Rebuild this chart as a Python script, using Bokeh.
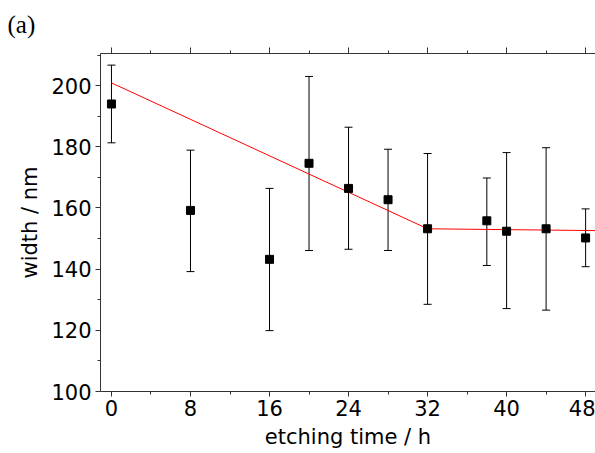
from bokeh.plotting import figure
from bokeh.models import (ColumnDataSource, Whisker, TeeHead, LinearAxis, FixedTicker,
                          Range1d, Title)
from bokeh.embed import file_html
from bokeh.resources import INLINE

# data
time_h = [0, 8, 16, 20, 24, 28, 32, 38, 40, 44, 48]
width_nm = [194.0, 159.2, 143.2, 174.6, 166.4, 162.7, 153.2, 155.8, 152.4, 153.2, 150.2]
err_upper = [206.7, 178.9, 166.4, 203.0, 186.4, 179.2, 177.8, 169.8, 178.1, 179.7, 159.7]
err_lower = [181.3, 139.2, 119.9, 146.1, 146.5, 146.1, 128.5, 141.2, 127.1, 126.6, 140.8]
fit_x = [0, 32, 49.0]
fit_y = [200.9, 153.2, 152.6]
x_ticks = [0, 8, 16, 24, 32, 40, 48]
x_minor = [4, 12, 20, 28, 36, 44]
y_ticks = [100, 120, 140, 160, 180, 200]
y_minor = [110, 130, 150, 170, 190, 210]

FONT = "DejaVu Sans"

p = figure(width=595, height=453, output_backend="svg", toolbar_location=None,
           x_range=Range1d(-1.11, 49.0), y_range=Range1d(100, 210.5),
           min_border_left=100, min_border_right=0, min_border_top=53,
           min_border_bottom=62, x_axis_location=None, y_axis_location=None)
p.outline_line_color = None
p.grid.visible = False
p.background_fill_color = "white"
p.border_fill_color = "white"

def style_axis(ax):
    ax.axis_line_color = "#333333"
    ax.axis_line_width = 1
    ax.major_tick_line_color = "#333333"
    ax.minor_tick_line_color = "#333333"
    ax.major_tick_in = 0
    ax.major_tick_out = 5
    ax.minor_tick_in = 0
    ax.minor_tick_out = 3
    ax.major_label_text_font = FONT
    ax.major_label_text_font_size = "21px"
    ax.major_label_text_color = "black"
    ax.axis_label_text_font = FONT
    ax.axis_label_text_font_size = "21px"
    ax.axis_label_text_font_style = "normal"
    ax.axis_label_text_color = "black"

xb = LinearAxis(ticker=FixedTicker(ticks=x_ticks, minor_ticks=x_minor),
                axis_label="etching time / h")
style_axis(xb)
xb.major_label_standoff = 3
xb.axis_label_standoff = 6
p.add_layout(xb, "below")

xt = LinearAxis(ticker=FixedTicker(ticks=x_ticks, minor_ticks=x_minor))
style_axis(xt)
xt.major_label_overrides = {t: "" for t in x_ticks}
xt.major_label_text_font_size = "1px"
xt.major_label_standoff = 0
xt.major_tick_out = 6
xt.minor_tick_out = 3
p.add_layout(xt, "above")

yl = LinearAxis(ticker=FixedTicker(ticks=y_ticks, minor_ticks=y_minor),
                axis_label="width / nm")
style_axis(yl)
yl.major_label_standoff = 4
yl.axis_label_standoff = 6
p.add_layout(yl, "left")

src = ColumnDataSource(dict(x=time_h, y=width_nm, up=err_upper, lo=err_lower))

p.line(fit_x, fit_y, line_color="#ff0000", line_width=1)

w = Whisker(base="x", upper="up", lower="lo", source=src,
            line_color="black", line_width=1,
            upper_head=TeeHead(size=8, line_color="black", line_width=1),
            lower_head=TeeHead(size=8, line_color="black", line_width=1))
p.add_layout(w)

p.scatter("x", "y", source=src, marker="square", size=8,
          fill_color="black", line_color="black")

title = Title(text="(a)", align="left", offset=-93, text_font="Liberation Serif",
              text_font_size="25px", text_font_style="normal", text_color="black",
              standoff=16, vertical_align="top")
p.add_layout(title, "above")

open("out.html", "w").write(file_html(p, INLINE))
